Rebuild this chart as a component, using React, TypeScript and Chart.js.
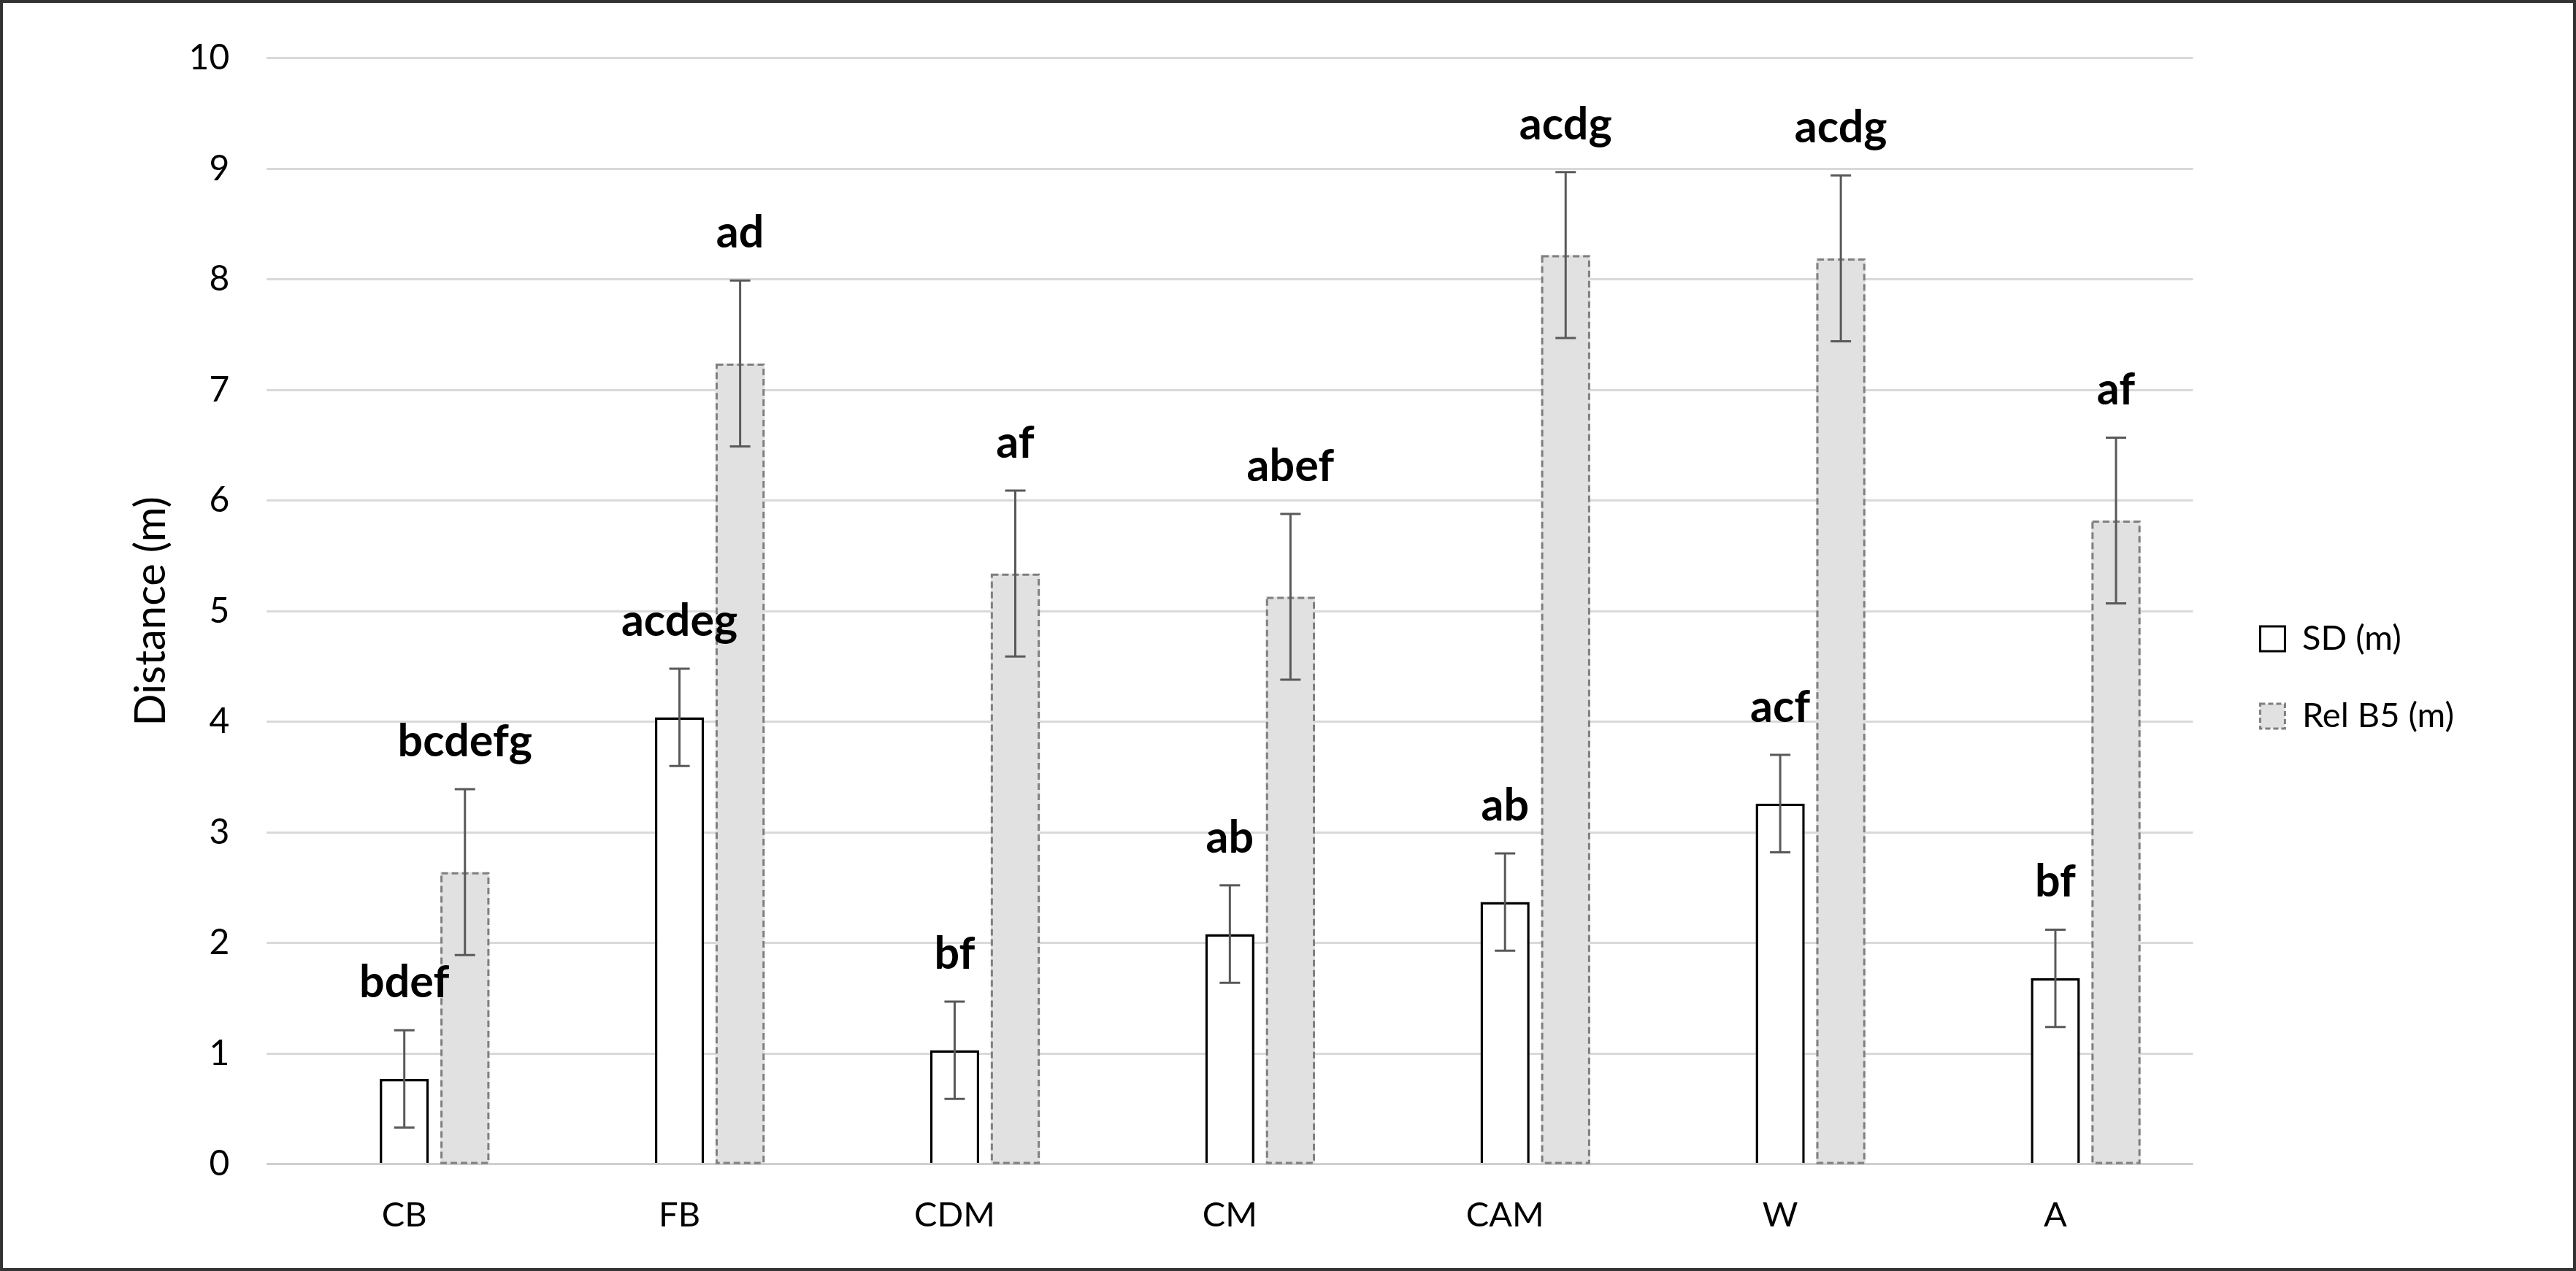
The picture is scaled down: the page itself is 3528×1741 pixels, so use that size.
import React, { useEffect, useRef } from 'react';
import { Chart, registerables } from 'chart.js';

Chart.register(...registerables);

const categories = ['CB', 'FB', 'CDM', 'CM', 'CAM', 'W', 'A'];
const seriesNames = ['SD (m)', 'Rel B5 (m)'];
const sdValues = [0.77, 4.04, 1.03, 2.08, 2.37, 3.26, 1.68];
const sdErrors = [0.44, 0.44, 0.44, 0.44, 0.44, 0.44, 0.44];
const relValues = [2.64, 7.24, 5.34, 5.13, 8.22, 8.19, 5.82];
const relErrors = [0.75, 0.75, 0.75, 0.75, 0.75, 0.75, 0.75];
const sdLetters = ['bdef', 'acdeg', 'bf', 'ab', 'ab', 'acf', 'bf'];
const relLetters = ['bcdefg', 'ad', 'af', 'abef', 'acdg', 'acdg', 'af'];
const yAxisTitle = 'Distance (m)';
const yMin = 0;
const yMax = 10;
const yStep = 1;

const FONT = 'Lato, "Open Sans", "DejaVu Sans", sans-serif';
const W = 3528;
const H = 1741;

const framePlugin = {
  id: 'frame',
  beforeDraw(chart: any) {
    const ctx = chart.ctx;
    ctx.save();
    ctx.fillStyle = '#ffffff';
    ctx.fillRect(0, 0, chart.width, chart.height);
    ctx.restore();
  },
  afterDraw(chart: any) {
    const ctx = chart.ctx;
    ctx.save();
    ctx.strokeStyle = '#333333';
    ctx.lineWidth = 4;
    ctx.strokeRect(2, 2, chart.width - 4, chart.height - 4);
    ctx.restore();
  },
};

const legendShiftPlugin = {
  id: 'legendShift',
  afterLayout(chart: any) {
    const lg = chart.legend;
    if (!lg) return;
    lg.left += 33;
    lg.right += 33;
    lg.top += 25;
    lg.bottom += 25;
  },
};

const errorPlugin = {
  id: 'errorBarsAndLetters',
  afterDatasetsDraw(chart: any) {
    const ctx = chart.ctx;
    const yScale = chart.scales.y;
    const area = chart.chartArea;
    ctx.save();
    const y0 = yScale.getPixelForValue(0);
    ctx.strokeStyle = '#cfcfcf';
    ctx.lineWidth = 3;
    ctx.beginPath();
    ctx.moveTo(area.left, y0);
    ctx.lineTo(area.right, y0);
    ctx.stroke();

    const relMeta = chart.getDatasetMeta(2);
    ctx.setLineDash([9, 5]);
    ctx.strokeStyle = '#7f7f7f';
    ctx.lineWidth = 3;
    relMeta.data.forEach((el: any) => {
      const p = el.getProps(['x', 'y', 'base', 'width'], true);
      ctx.strokeRect(p.x - p.width / 2 + 1.5, p.y + 1.5, p.width - 3, p.base - p.y - 1.5);
    });
    ctx.setLineDash([]);

    const sets = [
      { idx: 1, vals: sdValues, errs: sdErrors, letters: sdLetters },
      { idx: 2, vals: relValues, errs: relErrors, letters: relLetters },
    ];
    sets.forEach((s) => {
      const meta = chart.getDatasetMeta(s.idx);
      meta.data.forEach((el: any, k: number) => {
        const x = el.x;
        const top = yScale.getPixelForValue(s.vals[k] + s.errs[k]);
        const bot = yScale.getPixelForValue(s.vals[k] - s.errs[k]);
        ctx.strokeStyle = '#595959';
        ctx.lineWidth = 3;
        ctx.beginPath();
        ctx.moveTo(x, top);
        ctx.lineTo(x, bot);
        ctx.moveTo(x - 14, top);
        ctx.lineTo(x + 14, top);
        ctx.moveTo(x - 14, bot);
        ctx.lineTo(x + 14, bot);
        ctx.stroke();
        ctx.fillStyle = '#000000';
        ctx.font = `bold 61px ${FONT}`;
        ctx.textAlign = 'center';
        ctx.textBaseline = 'alphabetic';
        ctx.fillText(s.letters[k], x, top - 45);
      });
    });
    ctx.restore();
  },
};

export default function App() {
  const ref = useRef<HTMLCanvasElement>(null);

  useEffect(() => {
    document.body.style.margin = '0';
    document.body.style.overflow = 'hidden';
    const canvas = ref.current;
    if (!canvas) return;

    const barOpts = { categoryPercentage: 0.661, barPercentage: 0.81 };

    const chart = new Chart(canvas, {
      type: 'bar',
      data: {
        labels: categories,
        datasets: [
          {
            label: '',
            data: categories.map(() => null),
            backgroundColor: 'rgba(0,0,0,0)',
            borderWidth: 0,
            ...barOpts,
          },
          {
            label: seriesNames[0],
            data: sdValues,
            backgroundColor: '#ffffff',
            borderColor: '#000000',
            borderWidth: 3.5,
            borderSkipped: 'start',
            ...barOpts,
          },
          {
            label: seriesNames[1],
            data: relValues,
            backgroundColor: '#e1e1e1',
            borderColor: '#7f7f7f',
            borderWidth: 0,
            ...barOpts,
          },
        ] as any,
      },
      options: {
        responsive: false,
        animation: false,
        devicePixelRatio: 1,
        layout: { padding: { top: 79, bottom: 14, left: 0, right: 190 } },
        scales: {
          x: {
            grid: { display: false },
            border: { display: false },
            ticks: { color: '#000000', font: { family: FONT, size: 47 }, padding: 34 },
          },
          y: {
            min: yMin,
            max: yMax,
            ticks: { stepSize: yStep, color: '#000000', font: { family: FONT, size: 48 }, padding: 51 },
            grid: { color: '#d9d9d9', lineWidth: 3, drawTicks: false },
            border: { display: false },
            title: {
              display: true,
              text: yAxisTitle,
              color: '#000000',
              font: { family: FONT, size: 58 },
              padding: { top: 172, bottom: -34 },
            },
          },
        },
        plugins: {
          tooltip: { enabled: false },
          legend: {
            position: 'right',
            labels: {
              color: '#000000',
              font: { family: FONT, size: 47 },
              boxWidth: 34,
              boxHeight: 34,
              padding: 59,
              filter: (item: any) => item.datasetIndex !== 0,
              generateLabels: (c: any) => {
                const items = (Chart.defaults as any).plugins.legend.labels.generateLabels(c);
                items.forEach((it: any) => {
                  if (it.datasetIndex === 1) {
                    it.lineWidth = 3;
                    it.strokeStyle = '#000000';
                    it.fillStyle = '#ffffff';
                  } else if (it.datasetIndex === 2) {
                    it.lineWidth = 3;
                    it.strokeStyle = '#7f7f7f';
                    it.fillStyle = '#e1e1e1';
                    it.lineDash = [7, 4];
                  }
                });
                return items;
              },
            },
          },
        },
      } as any,
      plugins: [framePlugin, legendShiftPlugin, errorPlugin],
    });

    return () => chart.destroy();
  }, []);

  return (
    <div style={{ width: W, height: H }}>
      <canvas ref={ref} width={W} height={H} style={{ display: 'block', width: W, height: H }} />
    </div>
  );
}
